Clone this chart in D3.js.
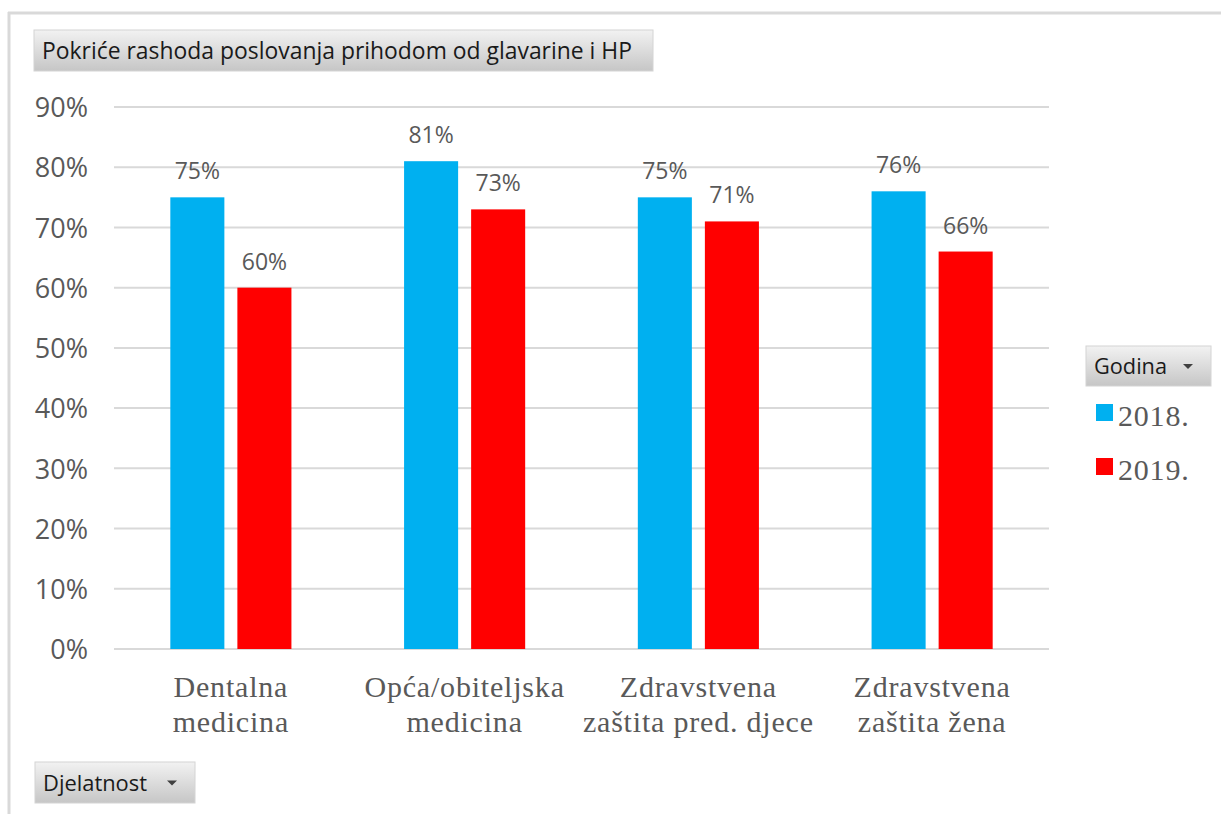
<!DOCTYPE html>
<html>
<head>
<meta charset="utf-8">
<title>Pokriće rashoda poslovanja</title>
<script src="https://cdn.jsdelivr.net/npm/d3@7"></script>
<style>
  body { margin: 0; background: #fff; }
</style>
</head>
<body>
<div id="container"></div>
<script>

// Podaci
const djelatnosti = [
  ["Dentalna", "medicina"],
  ["Opća/obiteljska", "medicina"],
  ["Zdravstvena", "zaštita pred. djece"],
  ["Zdravstvena", "zaštita žena"]
];
const godine = ["2018.", "2019."];
const vrijednosti2018 = [0.75, 0.81, 0.75, 0.76];
const vrijednosti2019 = [0.60, 0.73, 0.71, 0.66];
const yTicks = [0, 0.1, 0.2, 0.3, 0.4, 0.5, 0.6, 0.7, 0.8, 0.9];

const boje = { "2018.": "#00b0f0", "2019.": "#ff0000" };

const W = 1221, H = 814;
const plotLeft = 114, plotRight = 1049, plotTop = 107, plotBottom = 649;

const svg = d3.select("#container").append("svg")
  .attr("width", W).attr("height", H);

// gradijent za gumbe
const defs = svg.append("defs");
const grad = defs.append("linearGradient").attr("id", "btn").attr("x1", 0).attr("y1", 0).attr("x2", 0).attr("y2", 1);
grad.append("stop").attr("offset", "0%").attr("stop-color", "#f2f2f2");
grad.append("stop").attr("offset", "100%").attr("stop-color", "#c6c6c6");

// okvir
svg.append("line").attr("x1", 8).attr("x2", W).attr("y1", 13).attr("y2", 13)
  .attr("stroke", "#d9d9d9").attr("stroke-width", 3);
svg.append("line").attr("x1", 9).attr("x2", 9).attr("y1", 12).attr("y2", H)
  .attr("stroke", "#d9d9d9").attr("stroke-width", 3);

// Skale
const data = djelatnosti.map((d, i) => ({ key: i, vals: [vrijednosti2018[i], vrijednosti2019[i]] }));

const x0 = d3.scaleBand().domain(d3.range(djelatnosti.length)).range([plotLeft, plotRight]).paddingInner(0).paddingOuter(0);
const x1 = d3.scaleBand().domain(godine).range([0, x0.bandwidth()]).paddingInner(0.194).paddingOuter(0.84);
const y = d3.scaleLinear().domain([0, 0.9]).range([plotBottom, plotTop]);

// mreža
svg.append("g").selectAll("line").data(yTicks).join("line")
  .attr("x1", plotLeft).attr("x2", plotRight)
  .attr("y1", d => y(d)).attr("y2", d => y(d))
  .attr("stroke", "#d9d9d9").attr("stroke-width", 2);

// Y os
const yAxis = svg.append("g").attr("transform", `translate(${plotLeft - 26},0)`)
  .call(d3.axisLeft(y).tickValues(yTicks).tickFormat(d3.format(".0%")).tickSize(0).tickPadding(0));
yAxis.select(".domain").remove();
yAxis.selectAll("text")
  .attr("font-family", "'Open Sans', sans-serif").attr("font-size", 27)
  .attr("fill", "#595959").attr("dy", "0.36em");

// stupci
const grupe = svg.append("g").selectAll("g").data(data).join("g")
  .attr("transform", d => `translate(${x0(d.key)},0)`);

grupe.selectAll("rect").data(d => d.vals.map((v, j) => ({ g: godine[j], v }))).join("rect")
  .attr("x", d => x1(d.g)).attr("width", x1.bandwidth())
  .attr("y", d => y(d.v)).attr("height", d => y(0) - y(d.v))
  .attr("fill", d => boje[d.g]);

grupe.selectAll("text").data(d => d.vals.map((v, j) => ({ g: godine[j], v }))).join("text")
  .attr("x", d => x1(d.g) + x1.bandwidth() / 2)
  .attr("y", d => y(d.v) - 18)
  .attr("text-anchor", "middle")
  .attr("font-family", "'Open Sans', sans-serif").attr("font-size", 23)
  .attr("fill", "#595959")
  .text(d => d3.format(".0%")(d.v));

// X os - oznake
const xLab = svg.append("g").selectAll("text").data(djelatnosti).join("text")
  .attr("x", (d, i) => x0(i) + x0.bandwidth() / 2)
  .attr("y", 697)
  .attr("text-anchor", "middle")
  .attr("font-family", "'Liberation Serif', 'Times New Roman', serif").attr("font-size", 30)
  .attr("letter-spacing", 0.8)
  .attr("fill", "#595959");
xLab.selectAll("tspan").data(d => d).join("tspan")
  .attr("x", function () { return this.parentNode.getAttribute("x"); })
  .attr("dy", (d, i) => i === 0 ? 0 : 35)
  .text(d => d);

// gumbi
function gumb(x, y0, w, h, tekst, strelica, fs, duljina) {
  const g = svg.append("g");
  g.append("rect").attr("x", x).attr("y", y0).attr("width", w).attr("height", h)
    .attr("fill", "url(#btn)").attr("stroke", "#d4d4d4").attr("stroke-width", 1);
  const t = g.append("text").attr("x", x + 8).attr("y", y0 + h / 2 + 8)
    .attr("font-family", "'Open Sans', sans-serif").attr("font-size", fs)
    .attr("fill", "#1a1a1a").text(tekst);
  if (duljina) t.attr("textLength", duljina).attr("lengthAdjust", "spacingAndGlyphs");
  if (strelica) {
    const ax = x + w - 28, ay = y0 + h / 2 - 2;
    g.append("path").attr("d", `M${ax},${ay} L${ax + 10},${ay} L${ax + 5},${ay + 5} Z`).attr("fill", "#404040");
  }
}
gumb(34, 30, 619, 41, "Pokriće rashoda poslovanja prihodom od glavarine i HP", false, 23, 590);
gumb(1086, 346, 125, 40, "Godina", true, 22, 73);
gumb(35, 762, 160, 41, "Djelatnost", true, 22, 104);

// legenda
const leg = svg.append("g").selectAll("g").data(godine).join("g")
  .attr("transform", (d, i) => `translate(1096,${404 + i * 54})`);
leg.append("rect").attr("width", 17).attr("height", 17).attr("fill", d => boje[d]);
leg.append("text").attr("x", 22).attr("y", 22)
  .attr("font-family", "'Liberation Serif', 'Times New Roman', serif").attr("font-size", 30)
  .attr("letter-spacing", 0.8)
  .attr("fill", "#595959").text(d => d);

</script>
</body>
</html>
